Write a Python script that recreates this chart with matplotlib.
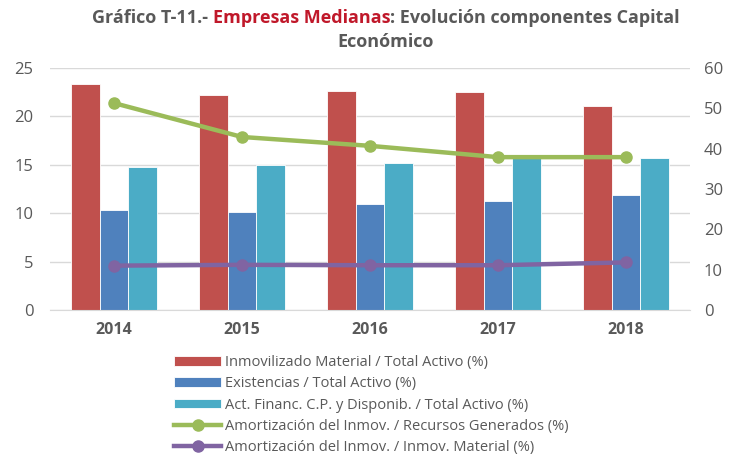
import numpy as np
import matplotlib
matplotlib.use("Agg")
import matplotlib.pyplot as plt

plt.rcParams['font.family'] = ['Open Sans', 'DejaVu Sans']

#=============================================================================
#DATA
#=============================================================================

years = ['2014', '2015', '2016', '2017', '2018']
inmovilizado = [23.3, 22.2, 22.6, 22.5, 21.1]
existencias = [10.3, 10.1, 11.0, 11.3, 11.9]
act_financ = [14.8, 15.0, 15.2, 15.8, 15.7]
amort_recursos = [51.3, 42.9, 40.7, 37.9, 37.9]
amort_material = [11.0, 11.2, 11.1, 11.1, 11.8]

labels = ['Inmovilizado Material / Total Activo (%)',
          'Existencias / Total Activo (%)',
          'Act. Financ. C.P. y Disponib. / Total Activo (%)',
          'Amortización del Inmov. / Recursos Generados (%)',
          'Amortización del Inmov. / Inmov. Material (%)']

#=============================================================================
#PLOT
#=============================================================================

c_red, c_blue, c_cyan = '#C0504D', '#4F81BD', '#4BACC6'
c_green, c_purple = '#9BBB59', '#8064A2'
grey = '#595959'

fig = plt.figure(figsize=(7.31, 4.57), dpi=100)
ax = fig.add_axes([50/731, 1-310/457, 640/731, 242/457])
ax2 = ax.twinx()

x = np.arange(len(years))
w = 0.223
b1 = ax.bar(x - w, inmovilizado, w, color=c_red, edgecolor='white', linewidth=0.6, zorder=2)
b2 = ax.bar(x, existencias, w, color=c_blue, edgecolor='white', linewidth=0.6, zorder=2)
b3 = ax.bar(x + w, act_financ, w, color=c_cyan, edgecolor='white', linewidth=0.6, zorder=2)

l1, = ax2.plot(x, amort_recursos, color=c_green, lw=3.2, marker='o', ms=8, zorder=3)
l2, = ax2.plot(x, amort_material, color=c_purple, lw=3.2, marker='o', ms=8, zorder=3)

ax.set_xlim(-0.5, len(years) - 0.5)
ax.set_ylim(0, 25)
ax2.set_ylim(0, 60)
ax.set_yticks(np.arange(0, 26, 5))
ax2.set_yticks(np.arange(0, 61, 10))
ax.yaxis.grid(True, color='#D9D9D9', lw=1)
ax.set_axisbelow(True)

ax.set_xticks(x)
for a in (ax, ax2):
    for s in a.spines.values():
        s.set_visible(False)
    a.tick_params(length=0, labelsize=12, colors=grey)
ax.set_xticklabels(years, fontweight='bold', fontsize=11.5, color=grey)
ax.spines['bottom'].set_visible(True)
ax.spines['bottom'].set_color('#D9D9D9')
ax.tick_params(axis='x', pad=9)
ax.tick_params(axis='y', pad=12)
ax2.tick_params(axis='y', pad=10)

fig.legend([b1, b2, b3, l1, l2], labels, loc='upper left',
           bbox_to_anchor=(167/731, 1-348/457), frameon=False,
           fontsize=10.5, labelcolor=grey, handlelength=3.2, handleheight=0.65,
           labelspacing=0.42, handletextpad=0.25, borderpad=0)

# title with a red part
parts = [('Gráfico T-11.- ', grey), ('Empresas Medianas', '#C0182A'),
         (': Evolución componentes Capital', grey)]
r = fig.canvas.get_renderer()
texts = []
for s, c in parts:
    t = fig.text(0, 1-18/457, s, color=c, fontsize=13, fontweight='bold',
                 va='center', ha='left')
    texts.append(t)
widths = [t.get_window_extent(r).width for t in texts]
x0 = 386 - sum(widths) / 2
for t, wd in zip(texts, widths):
    t.set_x(x0 / 731)
    x0 += wd
fig.text(386/731, 1-42/457, 'Económico', color=grey, fontsize=13,
         fontweight='bold', va='center', ha='center')

fig.savefig('out.png', dpi=100)
